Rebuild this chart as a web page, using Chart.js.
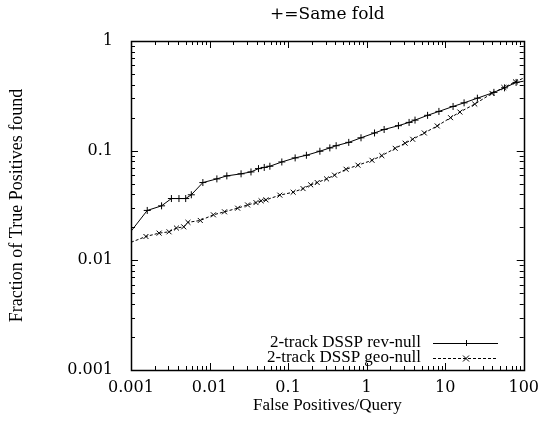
<!DOCTYPE html>
<html>
<head>
<meta charset="utf-8">
<script src="https://cdn.jsdelivr.net/npm/chart.js@4"></script>
<style>
  html, body { margin: 0; padding: 0; background: #fff; }
  #wrap { width: 547px; height: 422px; }
</style>
</head>
<body>
<div id="wrap"><canvas id="rocChart" width="547" height="422"></canvas></div>
<script>
const chartTitle = "+=Same fold";
const xTitle = "False Positives/Query";
const yTitle = "Fraction of True Positives found";

const xTicks = [0.001, 0.01, 0.1, 1, 10, 100];
const yTicks = [0.001, 0.01, 0.1, 1];

const revLabel = "2-track DSSP rev-null";
const revX = [0.001, 0.00161, 0.00245, 0.00327, 0.00408, 0.00497, 0.00586, 0.00822, 0.0124, 0.0166, 0.0252, 0.0337, 0.042, 0.0497, 0.0586, 0.0832, 0.123, 0.171, 0.254, 0.34, 0.409, 0.592, 0.848, 1.26, 1.67, 2.54, 3.47, 4.13, 5.97, 8.32, 12.6, 17.4, 25.7, 41.7, 57, 80, 100];
const revY = [0.0184, 0.0285, 0.0314, 0.0366, 0.0366, 0.0366, 0.0396, 0.0512, 0.0553, 0.0589, 0.0615, 0.064, 0.0686, 0.0703, 0.0721, 0.0789, 0.0859, 0.0908, 0.0988, 0.106, 0.111, 0.119, 0.131, 0.145, 0.156, 0.169, 0.181, 0.19, 0.21, 0.228, 0.253, 0.273, 0.301, 0.34, 0.374, 0.419, 0.43];

const geoLabel = "2-track DSSP geo-null";
const geoX = [0.001, 0.00155, 0.00228, 0.00305, 0.00379, 0.00469, 0.00531, 0.00762, 0.0112, 0.0155, 0.0228, 0.0305, 0.039, 0.0453, 0.0523, 0.0785, 0.116, 0.155, 0.194, 0.235, 0.309, 0.39, 0.547, 0.776, 1.17, 1.56, 2.31, 3.09, 3.86, 5.42, 7.92, 11.7, 15.4, 23.8, 39.4, 55.8, 78.5, 100];
const geoY = [0.0146, 0.0165, 0.0177, 0.0182, 0.0197, 0.0202, 0.0222, 0.0231, 0.026, 0.0277, 0.0299, 0.032, 0.0336, 0.0349, 0.0356, 0.0393, 0.0418, 0.0451, 0.0488, 0.0512, 0.0553, 0.0598, 0.0677, 0.0737, 0.0817, 0.0901, 0.105, 0.117, 0.127, 0.145, 0.168, 0.2, 0.225, 0.266, 0.333, 0.377, 0.424, 0.46];

const toPoints = (xs, ys) => xs.map((x, i) => ({ x: x, y: ys[i] }));
const endsHidden = (ctx) => {
    const n = ctx.dataset.data.length;
    return (ctx.dataIndex === 0 || ctx.dataIndex === n - 1) ? 0 : 3.5;
};

// gnuplot-like frame: box, inward major/minor ticks on all sides, title, legend
const framePlugin = {
    id: "frame",
    afterDraw(chart) {
        const ctx = chart.ctx;
        const a = chart.chartArea;
        const xs = chart.scales.x;
        const ys = chart.scales.y;
        ctx.save();
        ctx.strokeStyle = "#000";
        ctx.lineWidth = 1;

        ctx.beginPath();
        for (let e = -3; e <= 2; e++) {
            for (let m = 1; m <= 9; m++) {
                const v = m * Math.pow(10, e);
                if (v < xs.min * 0.999 || v > xs.max * 1.001) continue;
                const px = Math.round(xs.getPixelForValue(v)) + 0.5;
                const len = m === 1 ? 7 : 4;
                ctx.moveTo(px, a.bottom); ctx.lineTo(px, a.bottom - len);
                ctx.moveTo(px, a.top); ctx.lineTo(px, a.top + len);
            }
        }
        for (let e = -3; e <= 0; e++) {
            for (let m = 1; m <= 9; m++) {
                const v = m * Math.pow(10, e);
                if (v < ys.min * 0.999 || v > ys.max * 1.001) continue;
                const py = Math.round(ys.getPixelForValue(v)) + 0.5;
                const len = m === 1 ? 7 : 4;
                ctx.moveTo(a.left, py); ctx.lineTo(a.left + len, py);
                ctx.moveTo(a.right, py); ctx.lineTo(a.right - len, py);
            }
        }
        ctx.stroke();

        ctx.lineWidth = 1.5;
        ctx.strokeRect(Math.round(a.left) + 0.5, Math.round(a.top) + 0.5,
            Math.round(a.right - a.left), Math.round(a.bottom - a.top));

        // title
        ctx.fillStyle = "#000";
        ctx.font = "17px 'DejaVu Serif'";
        ctx.textAlign = "center";
        ctx.textBaseline = "middle";
        ctx.fillText(chartTitle, (a.left + a.right) / 2, 15);

        // legend: text on the left, line sample on the right
        ctx.font = "17px 'Liberation Serif'";
        ctx.textAlign = "right";
        chart.data.datasets.forEach((ds, i) => {
            const y = 343 + i * 15;
            ctx.fillText(ds.label, 421, y);
            ctx.beginPath();
            ctx.lineWidth = 1;
            ctx.setLineDash(ds.borderDash || []);
            ctx.moveTo(433, y + 0.5);
            ctx.lineTo(498, y + 0.5);
            ctx.stroke();
            ctx.setLineDash([]);
            const cx = 466, r = 3;
            ctx.beginPath();
            if (ds.pointStyle === "cross") {
                ctx.moveTo(cx - r, y + 0.5); ctx.lineTo(cx + r, y + 0.5);
                ctx.moveTo(cx + 0.5, y - r); ctx.lineTo(cx + 0.5, y + r);
            } else {
                ctx.moveTo(cx - r, y - r + 0.5); ctx.lineTo(cx + r, y + r + 0.5);
                ctx.moveTo(cx - r, y + r + 0.5); ctx.lineTo(cx + r, y - r + 0.5);
            }
            ctx.stroke();
        });
        ctx.restore();
    }
};

const isDecade = (v) => Math.abs(Math.log10(v) - Math.round(Math.log10(v))) < 1e-9;

new Chart(document.getElementById("rocChart"), {
    type: "line",
    data: {
        datasets: [{
            label: revLabel,
            data: toPoints(revX, revY),
            borderColor: "#000",
            borderWidth: 1,
            pointStyle: "cross",
            pointRadius: endsHidden,
            pointBorderColor: "#000",
            pointBorderWidth: 1,
            tension: 0
        }, {
            label: geoLabel,
            data: toPoints(geoX, geoY),
            borderColor: "#000",
            borderWidth: 1,
            borderDash: [3, 2],
            pointStyle: "crossRot",
            pointRadius: endsHidden,
            pointBorderColor: "#000",
            pointBorderWidth: 1,
            tension: 0
        }]
    },
    options: {
        responsive: false,
        animation: false,
        layout: { padding: { top: 41, right: 21, left: 0, bottom: 0 } },
        plugins: {
            legend: { display: false },
            title: { display: false },
            tooltip: { enabled: false }
        },
        scales: {
            x: {
                type: "logarithmic",
                min: 0.001,
                max: 100,
                afterBuildTicks: (scale) => { scale.ticks = xTicks.map(v => ({ value: v })); },
                afterFit: (scale) => { scale.height = 52; },
                grid: { drawOnChartArea: false, drawTicks: false },
                border: { display: false },
                ticks: {
                    autoSkip: false,
                    maxRotation: 0,
                    padding: 8,
                    color: "#000",
                    font: { family: "DejaVu Serif", size: 16 },
                    callback: (v) => isDecade(v) ? String(v) : ""
                },
                title: {
                    display: true,
                    text: xTitle,
                    color: "#000",
                    font: { family: "Liberation Serif", size: 17 },
                    padding: { top: 0, bottom: 6 }
                }
            },
            y: {
                type: "logarithmic",
                min: 0.001,
                max: 1,
                afterBuildTicks: (scale) => { scale.ticks = yTicks.map(v => ({ value: v })); },
                afterFit: (scale) => { scale.width = 131; },
                grid: { drawOnChartArea: false, drawTicks: false },
                border: { display: false },
                ticks: {
                    autoSkip: false,
                    padding: 18,
                    color: "#000",
                    font: { family: "DejaVu Serif", size: 16 },
                    callback: (v) => isDecade(v) ? String(v) : ""
                },
                title: {
                    display: true,
                    text: yTitle,
                    color: "#000",
                    font: { family: "Liberation Serif", size: 18 },
                    padding: { top: 6, bottom: 0 }
                }
            }
        }
    },
    plugins: [framePlugin]
});
</script>
</body>
</html>
